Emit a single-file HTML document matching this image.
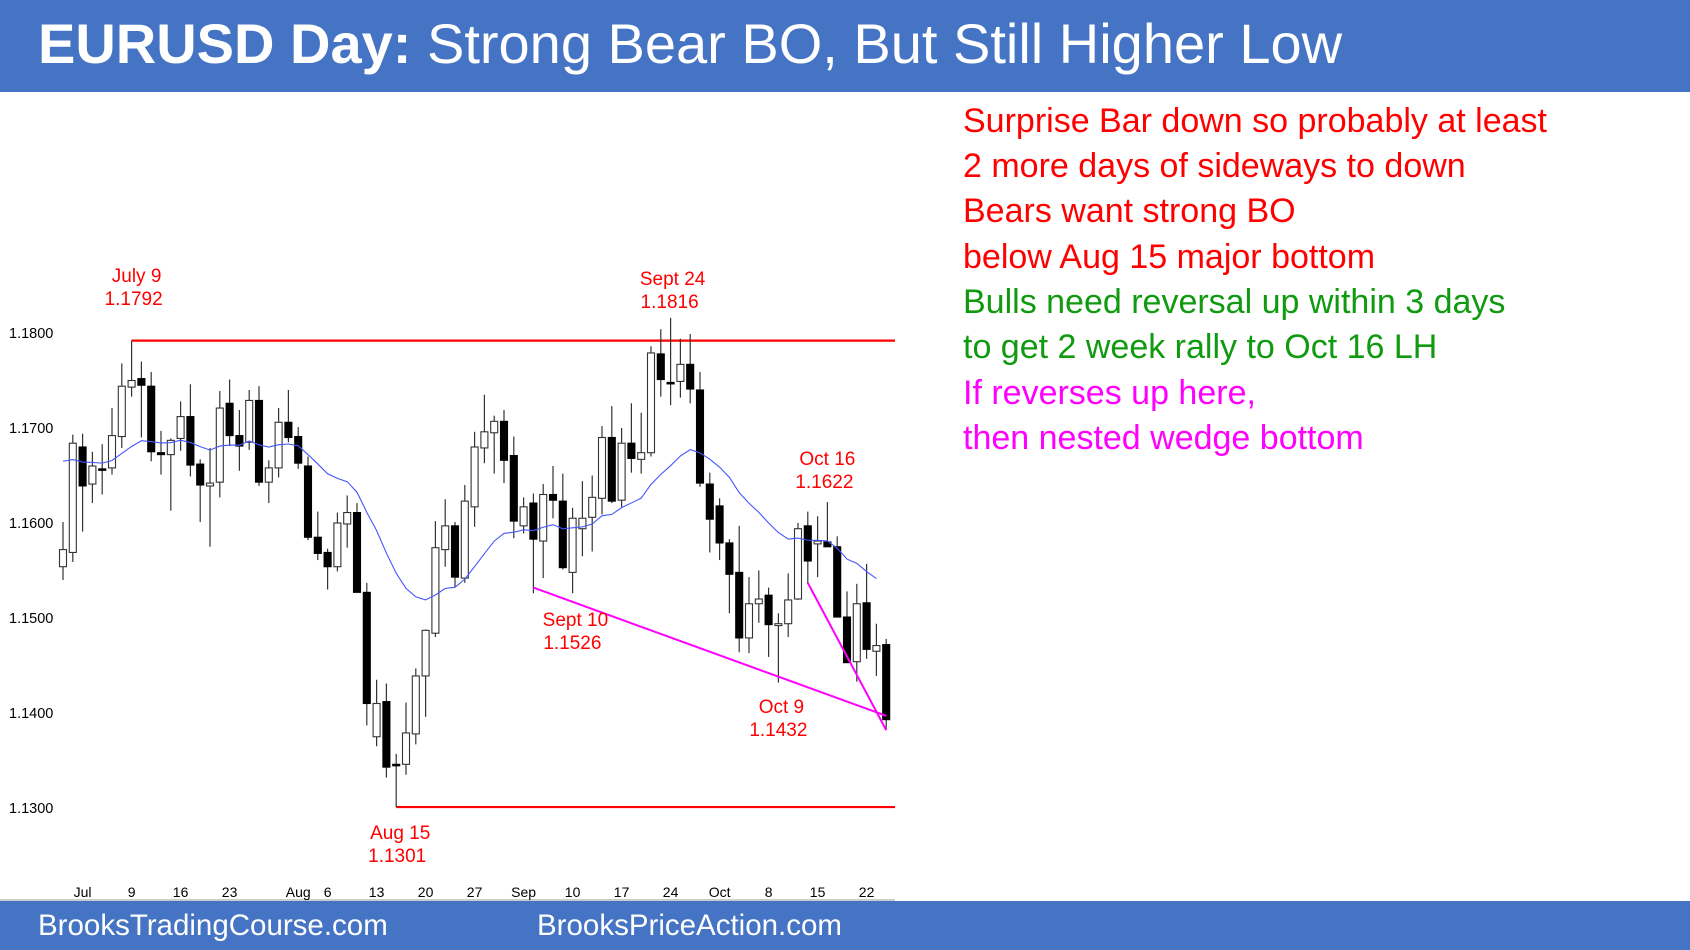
<!DOCTYPE html>
<html><head><meta charset="utf-8"><style>
html,body{margin:0;padding:0;background:#fff;}
body{width:1690px;height:950px;position:relative;overflow:hidden;font-family:"Liberation Sans",sans-serif;}
#hdr{position:absolute;left:0;top:0;width:1690px;height:92px;background:#4674c4;}
#title{position:absolute;left:38px;top:11px;color:#fff;font-size:56px;white-space:nowrap;}
#ftr{position:absolute;left:0;top:901px;width:1690px;height:49px;background:#4674c4;}
.ft{position:absolute;top:8px;color:#fff;font-size:29.5px;white-space:nowrap;}
.note{position:absolute;left:963px;font-size:34px;white-space:nowrap;}
svg{position:absolute;left:0;top:0;}
</style></head><body>
<div id="hdr"><div id="title"><b>EURUSD Day:</b> Strong Bear BO, But Still Higher Low</div></div>
<div class="note" style="top:102px;color:#ff0000">Surprise Bar down so probably at least</div>
<div class="note" style="top:147px;color:#ff0000">2 more days of sideways to down</div>
<div class="note" style="top:192px;color:#ff0000">Bears want strong BO</div>
<div class="note" style="top:238px;color:#ff0000">below Aug 15 major bottom</div>
<div class="note" style="top:283px;color:#109a10">Bulls need reversal up within 3 days</div>
<div class="note" style="top:328px;color:#109a10">to get 2 week rally to Oct 16 LH</div>
<div class="note" style="top:374px;color:#ff00ff">If reverses up here,</div>
<div class="note" style="top:419px;color:#ff00ff">then nested wedge bottom</div>
<svg id="chart" width="1690" height="950"></svg>
<div id="ftr">
<div class="ft" style="left:38px">BrooksTradingCourse.com</div>
<div class="ft" style="left:537px">BrooksPriceAction.com</div>
</div>
<script>
const opens=[1.1554,1.1569,1.1680,1.1641,1.1657,1.1658,1.1691,1.1743,1.1752,1.1744,1.1674,1.1672,1.1689,1.1712,1.1662,1.1639,1.1643,1.1726,1.1692,1.1685,1.1729,1.1643,1.1658,1.1706,1.1691,1.1660,1.1585,1.1569,1.1554,1.1599,1.1611,1.1527,1.1375,1.1412,1.1346,1.1346,1.1378,1.1439,1.1484,1.1572,1.1597,1.1542,1.1617,1.1679,1.1695,1.1707,1.1671,1.1597,1.1621,1.1581,1.1630,1.1623,1.1548,1.1594,1.1606,1.1626,1.1690,1.1624,1.1684,1.1667,1.1674,1.1778,1.1748,1.1749,1.1767,1.1740,1.1641,1.1618,1.1579,1.1548,1.1479,1.1515,1.1524,1.1492,1.1494,1.1520,1.1597,1.1578,1.1580,1.1575,1.1501,1.1454,1.1516,1.1465,1.1472];
const highs=[1.1601,1.1693,1.1694,1.1675,1.1683,1.1721,1.1768,1.1792,1.1770,1.1759,1.1697,1.1689,1.1728,1.1746,1.1667,1.1679,1.1739,1.1751,1.1719,1.1740,1.1744,1.1666,1.1721,1.1740,1.1701,1.1670,1.1612,1.1573,1.1611,1.1629,1.1621,1.1537,1.1435,1.1431,1.1357,1.1411,1.1447,1.1488,1.1602,1.1625,1.1601,1.1640,1.1696,1.1735,1.1713,1.1719,1.1691,1.1627,1.1631,1.1641,1.1660,1.1652,1.1616,1.1644,1.1650,1.1702,1.1723,1.1700,1.1726,1.1716,1.1786,1.1804,1.1816,1.1794,1.1799,1.1759,1.1653,1.1626,1.1583,1.1597,1.1543,1.1550,1.1532,1.1505,1.1547,1.1600,1.1612,1.1607,1.1622,1.1586,1.1528,1.1536,1.1557,1.1494,1.1478];
const lows=[1.1540,1.1559,1.1591,1.1621,1.1630,1.1651,1.1679,1.1733,1.1690,1.1665,1.1651,1.1613,1.1676,1.1649,1.1601,1.1575,1.1627,1.1681,1.1655,1.1677,1.1639,1.1621,1.1648,1.1685,1.1657,1.1582,1.1561,1.1530,1.1549,1.1574,1.1527,1.1387,1.1365,1.1332,1.1301,1.1335,1.1367,1.1396,1.1480,1.1554,1.1533,1.1537,1.1596,1.1663,1.1652,1.1642,1.1584,1.1589,1.1526,1.1542,1.1605,1.1551,1.1526,1.1565,1.1570,1.1609,1.1621,1.1617,1.1653,1.1652,1.1670,1.1733,1.1724,1.1732,1.1726,1.1638,1.1569,1.1561,1.1505,1.1464,1.1463,1.1495,1.1459,1.1432,1.1480,1.1519,1.1536,1.1543,1.1575,1.1501,1.1453,1.1433,1.1457,1.1439,1.1382];
const closes=[1.1572,1.1684,1.1639,1.1660,1.1656,1.1692,1.1744,1.1750,1.1745,1.1675,1.1672,1.1687,1.1712,1.1661,1.1640,1.1642,1.1721,1.1692,1.1681,1.1729,1.1643,1.1658,1.1706,1.1690,1.1663,1.1585,1.1568,1.1554,1.1600,1.1611,1.1527,1.1410,1.1410,1.1343,1.1346,1.1379,1.1439,1.1487,1.1574,1.1597,1.1543,1.1623,1.1680,1.1696,1.1707,1.1666,1.1602,1.1617,1.1583,1.1630,1.1624,1.1553,1.1605,1.1605,1.1627,1.1690,1.1623,1.1684,1.1668,1.1674,1.1779,1.1751,1.1747,1.1767,1.1741,1.1642,1.1604,1.1579,1.1546,1.1479,1.1515,1.1520,1.1493,1.1494,1.1519,1.1594,1.1560,1.1581,1.1575,1.1501,1.1453,1.1515,1.1467,1.1471,1.1393];
const yTicks=[1.18,1.17,1.16,1.15,1.14,1.13];
const xTickLabels=["Jul","9","16","23","Aug","6","13","20","27","Sep","10","17","24","Oct","8","15","22"];
const xTickIdx=[2,7,12,17,24,27,32,37,42,47,52,57,62,67,72,77,82];
const hLineLevels=[1.1792,1.1301];
const hLineStart=[7,34];
const wedgeStartIdx=[48,76];
const wedgeStartPrice=[1.1532,1.1537];
const wedgeEndIdx=[84,84];
const wedgeEndPrice=[1.1397,1.1382];
const annIdx=[7,62,78,48,73,34];
const annDate=["July 9","Sept 24","Oct 16","Sept 10","Oct 9","Aug 15"];
const annPrice=["1.1792","1.1816","1.1622","1.1526","1.1432","1.1301"];
const annY=[275,278,458,619,706,832];
const annDx=[5,2,0,42,3,4];

const NS="http://www.w3.org/2000/svg";
const svg=document.getElementById('chart');
const X=i=>63+i*9.8;
const Y=p=>333+(1.18-p)*9500;
function mk(tag,attrs,parent){const e=document.createElementNS(NS,tag);for(const k in attrs)e.setAttribute(k,attrs[k]);(parent||svg).appendChild(e);return e;}

const ax=mk('line',{x1:0,x2:895,y1:900,y2:900,stroke:'#999','stroke-width':1});



yTicks.forEach(t=>{const tx=mk('text',{x:9,y:Y(t)+5,'font-size':14.5,fill:'#000','font-family':'Liberation Sans, sans-serif'});tx.textContent=t.toFixed(4);

});
xTickLabels.forEach((l,k)=>{const tx=mk('text',{x:X(xTickIdx[k]),y:897,'font-size':14,'text-anchor':'middle',fill:'#000','font-family':'Liberation Sans, sans-serif'});tx.textContent=l;

});

hLineLevels.forEach((p,k)=>{const l=mk('line',{x1:X(hLineStart[k]),x2:895,y1:Y(p),y2:Y(p),stroke:'#ff0000','stroke-width':2.2});

});

for(let i=0;i<closes.length;i++){
 const g=mk('g',{});
 
 
 const x=X(i),o=opens[i],c=closes[i];
 mk('line',{x1:x,x2:x,y1:Y(highs[i]),y2:Y(lows[i]),stroke:'#333','stroke-width':1.2},g);
 const top=Y(Math.max(o,c)),h=Math.max(1.5,Math.abs(Y(o)-Y(c)));
 const bull=c>o;
 mk('rect',{x:x-3.5,y:top,width:7,height:h,fill:bull?'#fff':'#000',stroke:bull?'#333':'#000','stroke-width':1.1},g);
}

let ema=1.1665;const pts=[];const kf=2/21;
for(let i=0;i<closes.length-1;i++){ if(i>0) ema=ema+kf*(closes[i]-ema); pts.push(X(i)+','+Y(ema)); }
const pl=mk('polyline',{points:pts.join(' '),fill:'none',stroke:'#4455ff','stroke-width':1.1});



wedgeStartIdx.forEach((s,k)=>{const l=mk('line',{x1:X(s),y1:Y(wedgeStartPrice[k]),x2:X(wedgeEndIdx[k]),y2:Y(wedgeEndPrice[k]),stroke:'#ff00ff','stroke-width':2});

});

annIdx.forEach((ix,k)=>{
 const cx=X(ix)+annDx[k];
 const t1=mk('text',{x:cx,y:annY[k]+7,'font-size':19,'text-anchor':'middle',fill:'#ff0000','font-family':'Liberation Sans, sans-serif'});t1.textContent=annDate[k];
 
 
 const t2=mk('text',{x:cx-3,y:annY[k]+30,'font-size':19,'text-anchor':'middle',fill:'#ff0000','font-family':'Liberation Sans, sans-serif'});t2.textContent=annPrice[k];
 
 
});
</script>
</body></html>
